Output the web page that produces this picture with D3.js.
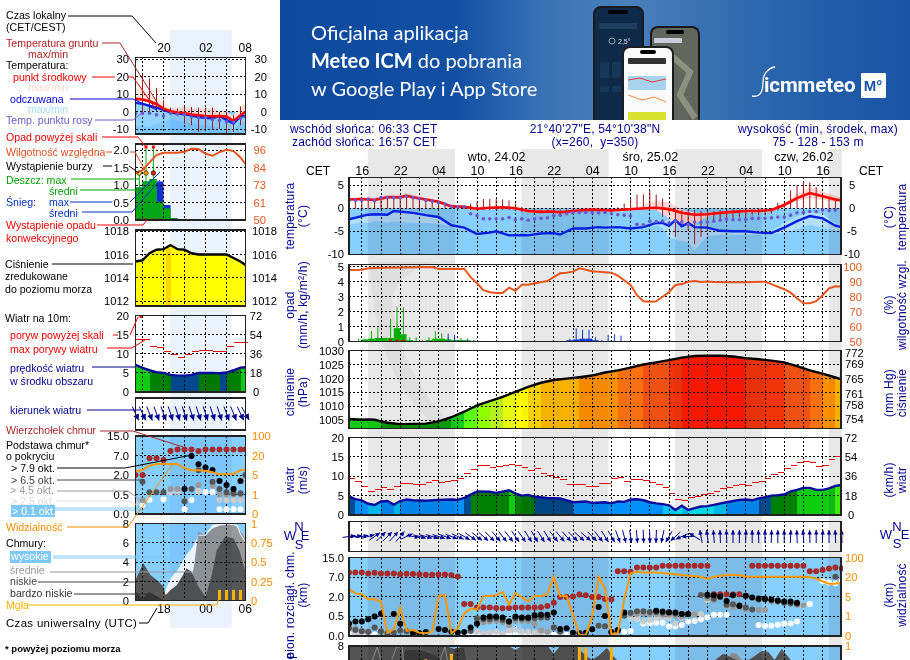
<!DOCTYPE html>
<html><head><meta charset="utf-8">
<script src="https://cdnjs.cloudflare.com/ajax/libs/d3/7.8.5/d3.min.js"></script>
<style>html,body{margin:0;padding:0;background:#fff}svg{display:block}text{font-family:"Liberation Sans",Arial,sans-serif}</style>
</head><body><svg id="c" width="910" height="660"></svg>
<script>
// ---------- main meteogram data (hours since 14:00, 23.02) ----------
const tempHours=[0,2,4,6,8,9,10,12,14,16,18,20,22,24,26,28,30,32,33,35,38,41,45,48,50,52,54,56,58,60,62,64,66,68,70,72,74,76,77];
const tempMid=[1.9,2,1.8,2.4,2.4,2.7,2.4,1.9,1.4,.4,.3,-.1,.1,.2,0,-.6,-.8,-.7,-.9,-.6,-.3,-.5,-.1,.1,-.2,-1,-1.4,-1.3,-1,-.8,-.6,-.6,-.4,.7,2.2,3.3,2.6,1.9,1.7];
const tempHi=[2.2,2.4,2.2,2.9,3,3.2,2.9,2.2,1.7,.7,.5,.2,.4,.5,.3,-.3,-.5,-.4,-.6,-.3,0,-.2,.2,1.6,1.3,-.3,-1,-1,-.7,-.5,-.3,-.3,-.1,1.2,3,4.6,3.7,2.6,2.2];
const tempLo=[1.7,1.7,1.5,2,2,2.3,2,1.6,1.1,.1,0,-.4,-.2,-.1,-.3,-.9,-1.1,-1,-1.2,-.9,-.6,-.8,-.4,-.4,-2.2,-4,-3.4,-1.8,-1.3,-1.1,-.9,-.9,-.7,.3,1.5,2.2,1.8,1.4,1.3];
const feelsHours=[0,2,3,4,6,7,10,12,14,16,18,20,22,23,25,27,28,30,32,33,35,37,39,40,42,44,46,48,49,50,51,52,53,54,56,58,60,62,64,66,68,70,72,74,76,77];
const feelsMid=[-2.4,-1.7,-1.4,-1.3,-1.4,-.6,-1,-1.5,-1.9,-3.7,-4.2,-5.6,-5.3,-5,-5.9,-5.8,-5.9,-5.5,-5.4,-5.7,-4.4,-4.4,-4.1,-4.2,-4.1,-4.4,-4.1,-3.2,-3.2,-3.8,-2.6,-3.9,-3.2,-4.1,-4.2,-4.9,-5,-5,-5.3,-5.4,-4.2,-2.8,-1.7,-2.2,-3.8,-4.1];
const feelsLo=[-3.6,-3.1,-3.2,-2.8,-3.1,-2.9,-3.2,-3.2,-3.3,-4.1,-4.6,-5.9,-5.6,-5.3,-6.2,-6.1,-6.3,-5.9,-5.7,-6,-4.8,-4.8,-4.5,-4.6,-4.4,-4.7,-4.4,-3.7,-4.2,-6.5,-6.8,-7.2,-7.4,-9.2,-6,-5.8,-5.8,-5.8,-5.7,-5.7,-5.4,-4.5,-3.6,-4.2,-4.8,-4.8];
const feelsHi=[-2.2,-1.5,-1.2,-1.1,-1.2,-.4,-.8,-1.3,-1.7,-3.5,-4,-5.3,-5,-4.7,-5.6,-5.5,-5.7,-5.3,-5.2,-5.5,-4.2,-4.2,-3.9,-4,-3.9,-4.2,-3.9,-3,-3,-2.5,-2.2,-3,-2.6,-3.5,-3.8,-4.6,-4.7,-4.7,-5,-5,-3.2,-1.8,-.9,-1.2,-3.2,-3.6];
const dewPoint=[1.7,1.7,1.7,2,1.6,2.3,2.3,2.3,2.3,2.6,2.3,2.1,1.7,1.5,1.2,.9,.4,.3,.3,-1.2,-1.6,-2.3,-2.3,-2.3,-2.3,-2,-2.5,-2.3,-2.6,-2.3,-2.2,-2.1,-1.6,-1.5,-1.2,-1,-.9,-.9,-.9,-1,-.9,-1.2,-1.4,-1.5,-1.7,-3.5,-3.6,-2.8,-2.9,-2.8,-3.2,-2.8,-3,-3.6,-3,-3.1,-3,-2.8,-2.6,-2.4,-2.5,-2.5,-2.4,-2.2,-2.2,-2.2,-2.1,-1.9,-1.9,-1.5,-1,-.9,-.7,-.7,-.4,-.5,-.4,-.6];
const soilMax=[2.1,2,2.2,2,2,2.5,2.6,2.6,2.6,2.9,2.6,2.3,2,1.7,1.5,.9,.6,.5,.5,1,1.4,2,2,2,1.9,1.7,1,.3,-.3,-.3,-.3,-.3,-.3,-.3,-.3,-.3,-.3,-.3,-.3,-.3,-.3,-.3,.2,1,2,3,3,3.9,3,2.1,.1,-.1,-.4,-.4,-.4,-.6,-.6,-.6,-.4,-.4,-.3,-.3,-.3,-.3,-.1,-.1,.1,1.2,1,3.9,5,5.6,5.6,4.6,3.2,2.3,1.9,1.7];
const soilMin=[-.1,-.1,-.1,-.1,-.1,-.1,-.1,-.1,-.1,-.1,-.1,-.1,-.1,-.1,-.1,-.1,-.1,-.1,-.1,-.4,-.4,-.4,-.4,-.4,-.4,-.4,-.4,-.9,-.9,-.9,-.9,-.9,-.9,-.9,-.9,-.9,-.9,-.9,-.9,-.9,-.9,-.9,-.3,-.3,-.3,-.3,-.3,-.3,-.3,-1.9,-1,-6.2,-4,-4.8,-7.8,-6.2,-4,-2.6,-2.6,-2.3,-2.2,-2,-1.9,-1.5,-1.5,-1.5,-1.2,-.5,0,0,0,0,0,0,0,0,0,0];
const rainHours=[0,1,2,3,4,5,6,7,8,9,10,11,12,13,14,15,16,17,18,19];
const rainMean=[.02,.05,.15,.2,.25,.25,.25,.9,.5,.1,.05,.05,.1,.2,.2,.15,.1,.1,.1,.05];
const rainMax=[.05,.2,.2,.7,.95,.25,1.5,2.3,2.3,.3,.3,.1,.3,.7,.55,.3,.3,.25,.2,.1];
const snowHours=[15,16,17,18,19,20,21,26,30,34,35,36,37,38,39,40,41,42,43];
const snowMean=[.05,.05,.05,.05,.05,.03,.02,.01,.01,.1,.15,.2,.2,.1,.03,.03,.02,.02,.02];
const snowMax=[.55,.45,.1,.15,.1,.05,.05,.03,.03,.2,.9,.8,.8,.3,.1,.45,.5,.4,.05];
const convectiveHours=[6,7,8];
const humHours=[0,2,3,6,13,14,18,19,20,21,22,23,24,25,26,27,28,29,31,32,33,34,35,36,37,38,41,42,44,45,46,47,48,49,50,51,52,53,54,55,56,57,60,62,63,65,66,68,69,70,71,72,73,74,75,76,77];
const humidity=[97.8,98,98.9,99.3,99.8,98.4,98.7,93,89,84.4,83,82.4,82.4,86,84,88,88,89,90.4,93,95.6,96,96.7,98.9,98,97,96,94,87.8,81,77,76.7,77,80,83,87.8,88.4,90,90.4,89.8,90.2,89.8,89.6,89.6,89.8,90,88.4,85,82.7,79,75.6,75.6,77,81,85.6,87,86.7];
const pressHours=[0,2,3,4,5,6,8,12,14,16,18,20,22,24,26,28,30,32,34,36,38,40,42,44,46,48,50,52,54,56,58,60,62,64,66,68,70,72,74,76,77];
const pressure=[1005.4,1005.1,1005.2,1005.1,1004.5,1004,1003.5,1003.7,1004.5,1006,1008,1010.3,1011.8,1013.4,1015.2,1017,1018.5,1019.5,1020,1020.5,1021.1,1022.2,1023,1024,1025.1,1025.9,1026.7,1027.6,1028.2,1028.3,1028.3,1028,1027.4,1027,1026.5,1025.9,1024.5,1023,1021.8,1020.4,1019.7];
const windHours=[0,1,2,3,4,5,6,7,8,9,10,12,14,16,17,18,19,20,22,23,25,26,27,28,29,31,33,35,37,38,40,41,42,43,44,45,46,47,48,49,50,51,52,53,54,55,56,57,59,61,62,63,64,65,66,67,68,69,70,71,72,73,74,75,76,77];
const windMean=[4.8,4.1,3.8,2.9,2.6,3.5,3.6,2.7,3.6,4,3.8,3.7,3.9,4,3.9,4.4,5.3,6.1,6,5.7,6.4,5.6,5,5.2,4.7,4.4,4.3,3.3,3.5,3.1,3.3,3,3.5,3.4,4,4.05,3.8,3.3,3,2.8,2.5,1.3,2.4,1.3,1.8,2.2,2.3,2.6,3.3,3.9,4,3.8,4.3,4.6,5,5.1,5.3,6.1,6.5,7,7,6.5,6.5,6.9,7.5,7.8];
const windGust=[9.4,8.6,7.4,6,6.6,7,6.5,7.3,8.1,8.1,7.8,7.8,8.5,8.9,8.4,8.6,8.8,9.4,10.7,11.8,12.7,12.7,12.4,12.6,12.9,13.1,12.9,12.4,11.5,12.1,10.8,10.1,9.8,9.2,7.8,7.8,7.8,7.3,7.4,8.1,8.1,9.5,9.8,8.6,9.2,9.2,8.8,8.3,8,7,5.5,4.1,3.8,4.4,4.9,5.3,5.5,6.2,6.8,7,7.7,7.8,7.6,8.4,8.6,9.4,10.4,10.9,12,12.8,13.6,13.8,13.5,12.6,12.9,14.4,15.2];
const windDir=[262,262,260,255,235,225,225,222,220,245,280,285,285,287,288,290,292,295,300,305,308,312,316,320,322,322,325,325,328,330,328,328,322,320,318,315,312,310,315,322,328,330,340,345,352,355,358,358,2,12,30,48,65,88,122,170,172,176,178,178,180,180,182,180,178,180,182,180,180,182,178,176,178,180,182,180,178,178];
const cloudTop=[9,9,9,8.6,8.9,8.6,8.6,8.6,8.2,8.4,8.3,8.2,8,8,8.1,8.1,7.8,7.3,1.45,1.45,1.19,1.19,1.19,1.15,1.12,1.15,1.19,1.19,1.19,1.19,1.21,1.3,1.55,2,2,2.1,2.6,2.4,2,2,1.83,1.8,9.5,9.5,9.3,11,11,11,11,11.7,11.7,11.7,11.7,11.7,11.7,11.7,11.7,2.7,2.7,2.7,2.6,2.65,2.3,11.7,11.7,11.7,11.7,11.7,11.7,11.7,11.7,11.7,9.5,9.5,10,10.6,11,10.6];
const cloudBlack=[.32,.37,.37,.43,.5,.71,null,.69,.31,null,.08,.07,.1,null,.18,.15,.11,.09,.1,.22,.31,.47,.5,.5,.47,.37,.5,.47,.47,.58,.62,.62,.8,.18,.2,.08,.07,.08,.17,1.22,.53,.1,.15,.8,null,null,null,null,.94,.87,.8,.8,.69,.69,null,null,2.55,2.4,2.1,1.68,2.4,1.3,2.3,1.95,1.88,1.85,1.8,1.73,1.65,1.65,1.55,null,null,null,null,null,null,null];
const cloudDark=[.2,.15,.12,.1,.22,.12,.07,.09,.14,.12,.07,.07,null,null,null,null,null,null,null,.13,.45,.43,.43,.45,.41,.37,.45,.44,.44,.45,.47,.47,.22,.11,null,null,null,null,null,.26,.25,.1,.13,.55,.78,.89,.89,.83,.83,.78,.83,.72,.69,.66,null,2.5,2.2,1.85,2,1.4,1.43,1.35,1.19,1.04,1.8,1.8,1.75,1.65,1.55,1.5,1.45,null,null,null,null,null,7.2,null];
const cloudGray=[.22,.2,.14,.12,null,null,null,null,null,null,null,null,null,null,null,null,null,null,null,null,.37,.35,.37,.39,.35,.28,.39,.39,.38,.31,.14,.11,.21,null,null,null,null,null,null,null,null,null,null,null,.68,.68,.68,.68,.68,.63,.63,.55,.5,.66,.66,null,1.9,1.75,null,1.35,1.2,1.25,1.04,null,1,1,1.65,null,null,null,1.4,1.35,null,null,null,null,null,null];
const cloudLight=[.16,.07,.05,null,null,null,null,null,null,null,null,null,null,null,null,null,null,null,null,null,.11,.07,.09,.11,.07,.14,.16,.11,.11,.09,.07,.11,null,null,null,null,null,null,null,null,null,null,null,null,.46,.44,.37,.4,.46,.48,.46,.32,.46,.65,.67,.66,1.75,null,null,null,null,null,null,null,null,null,null,null,null,null,null,null,null,null,null,null,null,null];
const cloudWhite=[.04,.04,.04,.04,.04,null,null,null,null,null,null,null,null,null,null,null,null,null,.04,.04,.04,.04,.04,.04,.04,.04,.04,.04,.04,.04,.04,.03,.03,.03,.03,.03,.03,.03,null,null,null,null,null,.11,.13,.44,.32,.32,.34,.34,.25,.24,.28,.37,.38,.43,.48,.63,.63,.63,null,null,null,null,.28,.26,.26,.29,.31,.32,.37,1.35,1.45,null,6,5.7,5.5,6];
const visHours=[0,1,2,3,4,5,6,7,8,9,10,11,12,13,14,15,16,17,18,19,20,21,22,23,24,25,26,27,28,29,30,31,32,33,34,35,36,37,38,39,40,41,42,43,44,45,46,48,49,52,55,56,57,59,61,62,65,71,72,73,74,75,76,77];
const visibility=[11,7.7,7.1,4.5,4.5,4,.17,.34,2.8,.27,.3,.17,.14,.22,5.6,6.5,.14,.39,1.6,2.6,2.4,5.6,5.6,6.2,8.9,3.4,8,4.9,4.1,5.6,5.6,7.1,22,5.6,5.6,1.3,.05,.05,1,22,11.5,.1,.14,4.4,36,43,40,40,38,29,22,18.7,22,29,29,22,22,22,21,19,17,15,15,16];
const lowHours=[0,15,16.5,18,25,26,27,31,32,33,35.5,37,38,39,40.3,41.5,43,56,58.5,60.5,62,63,64.5,65.5,66.5,67.6,69,71,77];
const cloudLow=[8,8,7.7,8,8,7.6,8,8,7.2,8,8,7,6.6,7,7.8,6.8,6,6,7.2,6.6,6.4,6.8,7.5,7.4,6.6,7.7,6.6,6,5];
const veryLowHours=[8.3,8.8,11,13.7,14,16.1,16.6,18,18.4];
const veryLow=[6,7.6,7.6,7,6,6,7.8,7.8,6];
const midHours=[58.8,59.8,60.6,61.6];
const cloudMid=[6.4,7.3,7.2,6.4];
const highLineA=[[3.6,6.5],[4.4,7.9],[5,6.5]];
const highLineB=[[6.7,6.6],[7.4,7.9],[8.3,7.9],[8.5,6.5]];
const highLineC=[[14.2,6.5],[15,7.9],[15.4,6.5]];
const fogHours=[12,16,36,37,41];
const fog=[.83,.9,1,.98,1];
const nights=[[2.95,16.55],[26.95,40.55],[50.95,64.55],[74.95,77]];
const hourTicks=[2,8,14,20,26,32,38,44,50,56,62,68,74];
const hourLabels=["16","22","04","10","16","22","04","10","16","22","04","10","16"];
const dayHours=[23,47,71];
const dayLabels=["wto, 24.02","śro, 25.02","czw, 26.02"];

// ---------- small past panel data (hours since 16:00) ----------
const miniHours=[0,1,2,3,4,5,6,7,8,9,10,11,12,13,14,15,15.7];
const miniTemp=[7.3,6.9,5.9,4.2,1.7,.2,-.6,-.8,-1.7,-2.1,-2.5,-2.7,-2.5,-2.9,-5.4,-2.1,-.2];
const miniTempHi=[13.6,12.3,10,7.5,4.6,2.1,2.3,2.3,2.1,1.7,1.7,1.7,.2,-.2,-2,2.3,4.6];
const miniTempLo=[6.3,5.9,4.9,3.2,.7,-.8,-1.6,-1.8,-2.7,-3.1,-3.5,-3.7,-3.5,-3.9,-6.4,-3.1,-1.2];
const miniFeels=[5,4.4,3.4,2.3,1,-.4,-1.1,-1.5,-2.1,-3.1,-3.6,-3.8,-2.5,-4.8,-6.9,-2.7,-2.5];
const miniFeelsLo=[-8,-8.4,-8.5,-7,-6,-4.2,-5,-6,-6.8,-7.5,-8,-8.6,-9.3,-10,-10,-6,-6];
const miniDew=[-1.1,-1.1,-1,-1.9,-2.5,-1,-1.5,-1.7,-3.1,-3.6,-3.4,-4.6,-5,-5.9,-6.1,-4,-3];
const miniSoilMax=[null,21.5,19,13.6,6.5,2.3,1.7,2.7,2.7,2.3,2.3,2.3,-.2,-.2,-2,3,null];
const miniSoilMin=[null,-1,-.2,0,0,0,-.2,-6.9,-7.9,-11.7,-9.8,-10.3,-9.8,-12.6,-11.7,-7.9,null];
const miniRainHours=[0,1,2,3,4,5];
const miniRainMean=[.93,1.1,1.17,.52,.33,.05];
const miniSnowTotal=[.93,1.1,1.17,1.1,.43,.05];
const miniRainMaxHours=[.55,1.5,2.55];
const miniRainMax=[1.33,2.1,2.1];
const miniOverHours=[1.5,2.55];
const miniStormHours=[.55,1.5,2.55];
const miniStormColors=["#ffe000","#f0a000","#e02000"];
const miniConvective=[.5,1.5,2.5,3.5];
const miniHumidity=[80.6,82.8,87.9,92.7,94.2,94.2,94.2,94.9,96.8,96.6,93.5,92.2,94.6,96.2,95.3,91.1,86.8];
const miniPressHours=[0,1,2,3,4,4.3,5,6,7,8,9,10,11,12,13,14,15,15.7];
const miniPressure=[1015.4,1015.5,1016.1,1016.4,1016.45,1016.55,1016.8,1016.45,1016.4,1016.1,1016,1016,1016,1016,1016,1015.7,1015.4,1015.1];
const miniWind=[7.1,6.3,5.7,5.2,5,4.5,4.3,4.3,4.5,5,5,5,4.9,5.1,5.7,6.4,6.5];
const miniGust=[13.7,13.7,11.9,11.7,10.7,9.7,9,9.9,10.7,11,11,10.7,10.7,11.8,13,13.1];
const miniDir=[335,335,338,340,340,342,342,342,342,342,342,342,342,340,338,335,330];
const miniTop=[2,2,6.3,6.3,5.85,8.8,9.5,9.5,9.5,8.8,9.5,9.5,9.5,9.5,9.5,9.5,9.5];
const miniBlack=[null,null,null,null,null,null,null,.92,6.9,4.75,3.9,3.3,1.54,1.23,.92,1.54,null];
const miniDark=[null,1.49,.67,.67,.67,null,null,.33,.92,3.2,null,1.49,.92,.67,.6,.6,2];
const miniGray=[null,.35,null,null,null,.92,.92,null,null,1.23,null,1.18,.5,.5,.5,.5,null];
const miniLight=[.27,null,null,null,null,.72,.72,null,null,.77,null,null,.36,.36,.36,.36,null];
const miniWhite=[null,.23,.36,null,.38,.67,null,.12,.36,.75,.7,.7,.12,.12,.12,.12,null];
const miniVis=[8,8.75,12.2,13.4,13.4,13.4,13.4,10.1,8.75,8.75,8,7.1,5.5,5.5,5.8,8.75,9];
const miniLowHours=[0,1.1,2.1,3.3,4,4.3,5,5.9,6.8,7.3,8,9,10,10.9,11.6,12.8,14,14.9,15.7];
const miniLow=[2.15,3.9,2.7,2,1.45,.6,1.1,1.6,2.7,3.35,3,1.45,.4,2.7,5.25,6.65,6.5,5.1,3];
const miniVeryLowHours=[0,1,2,3.5,4.2];
const miniVeryLow=[.9,.25,.9,.25,0];
const miniMidHours=[7,8,8.3,9,10,11,12,14,14.7,15.7];
const miniMid=[0,2.3,3.35,7.15,6.8,7.5,7.8,8,7.5,6.5];
const miniHighHours=[4,4.2,5,6,7.1,8.2,9,10,11,13,14.5,15,15.7];
const miniHigh=[0,.9,2.3,3.2,4.6,5.6,6.8,6.8,7.85,8,7.85,6.9,6.1];
const miniFogHours=[12,13,14,15];
const miniFog=[.14,.14,.14,.14];

// ---------- legend text: label,x,y,colour ----------
const legendLabels=[
["Czas lokalny",6,19,"#000"],["(CET/CEST)",6,31,"#000"],["Temperatura gruntu",6,47,"#b22222"],["max/min",28,57.5,"#b22222"],
["Temperatura:",6,69,"#000"],["punkt środkowy",13,81,"#ff0000"],["max/min",28,91,"#ffdccc"],["odczuwana",10,103,"#0000e0"],["max/min",28,113,"#a8dcff"],
["Temp. punktu rosy",6,124,"#6a5acd"],["Opad powyżej skali",6,141,"#ff0000"],["Wilgotność względna",6,156,"#e05020"],["Wystąpienie burzy",6,170,"#000"],
["Deszcz: max",6,184,"#00a000"],["średni",49,195,"#00a000"],["Śnieg:",6,206,"#0030c0"],["max",49,206,"#0030c0"],["średni",49,217,"#0030c0"],
["Wystąpienie opadu",6,229,"#ff0000"],["konwekcyjnego",6,242,"#ff0000"],["Ciśnienie",5,268,"#000"],["zredukowane",5,280,"#000"],["do poziomu morza",5,293,"#000"],
["Wiatr na 10m:",5,322,"#000"],["poryw powyżej skali",10,339,"#ff0000"],["max porywy wiatru",10,353,"#ff0000"],["prędkość wiatru",10,372,"#000090"],["w środku obszaru",10,385,"#000090"],
["kierunek wiatru",10,414,"#000090"],["Wierzchołek chmur",6,434,"#a52a2a"],["Podstawa chmur*",6,449,"#000"],["o pokryciu",6,460,"#000"],
["> 7.9 okt.",11,472,"#000"],["> 6.5 okt.",11,484,"#444"],["> 4.5 okt.",10,494,"#999"],["> 2.5 okt.",11,505,"#ddd"],["Widzialność",6,531,"#ff8c00"],
["Chmury:",6,547,"#000"],["średnie",10,574,"#999"],["niskie",10,585,"#444"],["bardzo niskie",10,597,"#333"],["Mgła",6,609,"#ffb000"]];
const legendBoxes=[["> 0.1 okt.",11,505,44,12,515],["wysokie",10,551,41,12,560]];
const leaders=[
[[68,16],[132,16],[156,43],"#000"],[[102,43],[120,43],[160,107],"#a52a2a"],[[92,77],[115,77],"#f00"],[[128,77],[133,77],[155,108],"#f00"],
[[70,99],[133,99],[157,110],"#0000e0"],[[95,120],[133,120],[142,113],"#6a5acd"],[[102,137],[138,137],[146,147],"#f00"],
[[106,152],[112,152],"#e05020"],[[130,152],[135,152],[146,172],"#e05020"],[[103,166],[112,166],"#000"],[[129,166],[139,173],"#000"],
[[71,179],[139,179],"#00a000"],[[80,190],[144,190],"#00a000"],[[70,202],[112,202],"#0030c0"],[[130,202],[160,172],"#0030c0"],[[82,212],[132,212],[160,180],"#0030c0"],
[[97,225],[143,225],[147,220],"#f00"],[[52,264],[133,264],"#000"],[[113,335],[118,335],"#f00"],[[130,335],[138,317],"#f00"],[[107,348],[132,348],[145,340],"#f00"],
[[92,367],[135,367],"#000090"],[[87,410],[140,410],"#000090"],[[100,431],[133,431],[183,447],"#a52a2a"],[[57,468],[125,468],[192,455],"#000"],
[[57,480],[143,480],"#444"],[[57,491],[128,491],[143,502],"#999"],[[57,501],[130,501],[137,505],"#ddd"],[[55,508],[135,508],"#7ec8f8"],[[55,510],[135,510],"#7ec8f8"],
[[67,527],[128,527],[172,465],"#ff8c00"],[[53,556],[185,556],"#7ec8f8"],[[53,558],[185,558],"#7ec8f8"],[[50,572],[193,572],"#999"],[[38,582],[135,582],"#444"],[[74,594],[147,594],"#333"],
[[27,605],[217,605],[218,600],"#ffb000"],[[139,623],[148,623],[157,608],"#000"]];

// ---------- colour steps ----------
const pressSteps=[1004.3,1005,1006.5,1008,1009.5,1011,1012.5,1014,1016.5,1018.2,1020.5,1022.5,1024.5,1026,1027.5];
const pressColors=["#0a8f0a","#0c9f0c","#14cc14","#2ee81a","#5cff10","#8fff00","#b6ee20","#e6f710","#ffff00","#ffd800","#ffb800","#ff9000","#f87010","#f05010","#f03408","#ff1a00"];
const windSteps=[2.4,3,4.2,5,6.2,7.3];
const windColors=["#00f0ff","#00c8ff","#0090ff","#004c90","#008000","#10cc10","#44ff11"];

// ---------- setup ----------
const svg=d3.select("#c");
const NAVY="#000090",FONT=10.6;
function txt(g,s,x,y,o={}){const t=g.append("text").attr("x",x).attr("y",y).text(s)
 .attr("fill",o.fill||"#000").attr("font-size",o.size||FONT).attr("text-anchor",o.anchor||"start")
 .style("letter-spacing",(o.ls==null?0:o.ls)+"px");
 if(o.weight)t.attr("font-weight",o.weight);if(o.family)t.style("font-family",o.family);
 if(o.rot!=null)t.attr("transform",`rotate(${o.rot} ${x} ${y})`);return t;}
const pts=(hs,vs)=>hs.map((h,i)=>[h,vs[i]]);
const pairs=(hs,a,b)=>hs.map((h,i)=>[h,a[i],b[i]]);

function makeAxis(g,side,scale,vals,x,o={}){
 const ax=(side==="left"?d3.axisLeft(scale):d3.axisRight(scale)).tickValues(vals).tickSize(0).tickPadding(0).tickFormat(o.format||(d=>d));
 const a=g.append("g").attr("transform",`translate(${x},0)`).call(ax);
 a.select(".domain").remove();
 a.selectAll("text").attr("fill",o.fill||"#000").attr("font-size",o.size||11.2).style("font-family",'"Liberation Sans"')
  .attr("text-anchor",o.anchor||(side==="left"?"end":"start")).attr("x",0);
}
function timeAxis(g,scale,vals,labels,y,size){
 const a=g.append("g").attr("transform",`translate(0,${y})`).call(d3.axisTop(scale).tickValues(vals).tickSize(0).tickPadding(0).tickFormat((d,i)=>labels[i]));
 a.select(".domain").remove();
 a.selectAll("text").attr("fill","#000").attr("font-size",size).style("font-family",'"Liberation Sans"').attr("text-anchor","middle").attr("dy",0);
}
function grid(g,xS,yS,x0,x1,y0,y1,hs,ys){
 const gg=g.append("g").attr("stroke","#000").attr("stroke-width",1).attr("stroke-dasharray","2,2").attr("shape-rendering","crispEdges");
 gg.selectAll(".v").data(hs).join("line").attr("x1",d=>xS(d)).attr("x2",d=>xS(d)).attr("y1",y0).attr("y2",y1);
 gg.selectAll(".h").data(ys).join("line").attr("x1",x0).attr("x2",x1).attr("y1",d=>yS(d)).attr("y2",d=>yS(d));
}
function border(g,x0,x1,y0,y1,w){g.append("rect").attr("x",x0).attr("y",y0).attr("width",x1-x0).attr("height",y1-y0)
 .attr("fill","none").attr("stroke","#222").attr("stroke-width",w||1.5).attr("shape-rendering","crispEdges");}
let clipN=0;
function clipRect(x0,x1,y0,y1){const id="cp"+(clipN++);svg.append("clipPath").attr("id",id).append("rect").attr("x",x0).attr("y",y0).attr("width",x1-x0).attr("height",y1-y0);return `url(#${id})`;}
function areaClip(path){const id="cp"+(clipN++);svg.append("clipPath").attr("id",id).append("path").attr("d",path);return `url(#${id})`;}
function lineOf(xS,yS){return d3.line().defined(d=>d[1]!=null).x(d=>xS(d[0])).y(d=>yS(d[1]));}
function areaOf(xS,yS,base){return d3.area().x(d=>xS(d[0])).y0(yS(base)).y1(d=>yS(d[1]));}
function bandOf(xS,yS){return d3.area().x(d=>xS(d[0])).y0(d=>yS(d[2])).y1(d=>yS(d[1]));}
function steps(g,xS,yS,hs,vs,base,colorFn){
 const clip=areaClip(areaOf(xS,yS,base)(pts(hs,vs)));
 const gg=g.append("g").attr("clip-path",clip);
 gg.selectAll("rect").data(hs.slice(0,-1)).join("rect").attr("x",d=>xS(d)).attr("width",(d,i)=>xS(hs[i+1])-xS(d)+.5)
  .attr("y",yS.range()[1]-20).attr("height",yS(base)-yS.range()[1]+20).attr("fill",(d,i)=>colorFn(vs[i],vs[i+1])).attr("shape-rendering","crispEdges");
}
function dots(g,xS,yS,hs,vs,r,c){
 g.append("g").selectAll("circle").data(pts(hs,vs).filter(d=>d[1]!=null)).join("circle")
  .attr("cx",d=>xS(d[0])).attr("cy",d=>yS(d[1])).attr("r",r).attr("fill",c);
}
function arrows(g,xS,cy,hs,dirs,len,hl,hw){
 const gg=g.append("g");
 hs.forEach((h,i)=>{const a=(dirs[i]+180)*Math.PI/180,dx=Math.sin(a),dy=-Math.cos(a),cx=xS(h);
  const tx=cx+dx*len/2,ty=cy+dy*len/2,sx=cx-dx*len/2,sy=cy-dy*len/2,bx=tx-dx*hl,by=ty-dy*hl;
  gg.append("path").attr("d",d3.line()([[sx,sy],[tx,ty]])).attr("stroke",NAVY).attr("stroke-width",1).attr("fill","none");
  gg.append("path").attr("d",d3.line()([[tx,ty],[bx-dy*hw,by+dx*hw],[bx+dy*hw,by-dx*hw]])+"Z").attr("fill",NAVY);
 });
}

// ---------- banner ----------
(function(){
 const defs=svg.append("defs");
 const lg=defs.append("linearGradient").attr("id","bn");
 [[0,"#0d4a9e"],[.28,"#114fa2"],[.42,"#3a72b6"],[.55,"#4a80bb"],[.75,"#2e68ae"],[.9,"#1f5aa8"],[1,"#1a55a5"]].forEach(s=>lg.append("stop").attr("offset",s[0]).attr("stop-color",s[1]));
 const b=svg.append("g");
 b.append("rect").attr("x",280).attr("y",0).attr("width",630).attr("height",120).attr("fill","url(#bn)");
 const F='Lato,"Open Sans",sans-serif';
 txt(b,"Oficjalna aplikacja",311,40,{fill:"#fff",size:20,family:F});
 const t2=b.append("text").attr("x",311).attr("y",68).attr("fill","#fff").attr("font-size",20).style("font-family",F);
 t2.append("tspan").attr("font-weight",700).text("Meteo ICM");t2.append("tspan").text(" do pobrania");
 txt(b,"w Google Play i App Store",311,96,{fill:"#fff",size:20,family:F});
 const pc=b.append("g").attr("clip-path",clipRect(280,910,0,120));
 const rr=(x,y,w,h,r,f)=>pc.append("rect").attr("x",x).attr("y",y).attr("width",w).attr("height",h).attr("rx",r).attr("fill",f);
 rr(593,6,51,125,8,"#1a1a1e");rr(595,8,47,125,6,"#0e2a48");rr(608,10,20,4,2,"#000");
 rr(599,23,38,6,1,"#1e3c5e");txt(pc,"2,5°",618,44,{fill:"#dde",size:7});pc.append("circle").attr("cx",612).attr("cy",41).attr("r",3).attr("fill","none").attr("stroke","#8aa");
 for(let k=0;k<3;k++){rr(600+k*12,62,9,16,1,"#16365a");rr(600+k*12,86,9,6,1,"#16365a");}
 rr(650,26,50,100,8,"#18181c");rr(652,28,46,98,6,"#62665c");rr(666,30,18,4,2,"#000");rr(654,38,28,5,1,"#ccd");
 pc.append("path").attr("d","M665,50 L690,72 L680,95 L695,118").attr("stroke","#8d8f80").attr("stroke-width",6).attr("fill","none");
 rr(622,46,52,85,8,"#1e1e22");rr(624,48,48,80,6,"#fafafa");rr(640,50,16,4,2,"#000");rr(628,58,38,6,1,"#333");
 rr(628,76,38,14,0,"#a6d4ef");pc.append("path").attr("d","M628,80 L640,78 L652,82 L666,79").attr("stroke","#e33").attr("fill","none");
 pc.append("path").attr("d","M628,95 L642,100 L654,97 L666,102").attr("stroke","#e84").attr("fill","none");
 rr(628,112,38,8,0,"#d8e030");
 txt(b,"icmmeteo",764,92,{fill:"#fff",size:20.5,weight:700,family:'Roboto,sans-serif',ls:-.1});
 b.append("path").attr("d","M752,96 C762,98 763,88 763,82 C763,74 768,68 775,67").attr("stroke","#fff").attr("stroke-width",1.3).attr("fill","none");
 b.append("rect").attr("x",861).attr("y",73).attr("width",25).attr("height",25).attr("rx",1).attr("fill","#fff");
 txt(b,"M°",873,91,{fill:"#1a56a6",size:15,weight:700,anchor:"middle"});
})();

// ---------- header ----------
const H={fill:NAVY,size:12,ls:.2};
txt(svg,"wschód słońca: 06:33 CET",290,133,H);
txt(svg,"zachód słońca: 16:57 CET",292,146,H);
txt(svg,"21°40'27\"E, 54°10'38\"N",595,133,{...H,anchor:"middle"});
txt(svg,"(x=260,\u00a0 y=350)",595,146,{...H,anchor:"middle"});
txt(svg,"wysokość (min, środek, max)",898,133,{...H,anchor:"end"});
txt(svg,"75 - 128 - 153 m",818,146,{...H,anchor:"middle"});

// ---------- main panels ----------
const X0=349,X1=841;
const x=d3.scaleLinear().domain([0,77]).range([X0,X0+77*6.4]);
const yT=d3.scaleLinear().domain([-10,5]).range([254.3,185.2]);
const yR=d3.scaleLinear().domain([0,5]).range([341.7,266.7]);
const yH=d3.scaleLinear().domain([50,100]).range([341.7,266.7]);
const yP=d3.scaleLinear().domain([1005,1030]).range([420,351]);
const yPmm=d3.scaleLinear().domain([1005*.750062,1030*.750062]).range([420,351]);
const yW=d3.scaleLinear().domain([0,20]).range([515,437.6]);
const yWk=d3.scaleLinear().domain([0,72]).range([515,437.6]);
const yB=d3.scaleLinear().domain([0,.5,2,7,15]).range([636,616.4,596.9,577.3,557.7]);
const yV=d3.scaleLinear().domain([0,1,5,20,100]).range([636,616.4,596.9,577.3,557.7]);
const yC=d3.scaleLinear().domain([0,8]).range([724,646]);
const yF=d3.scaleLinear().domain([0,1]).range([724,646]);
const pressColor=d3.scaleThreshold().domain(pressSteps).range(pressColors);
const windColor=d3.scaleThreshold().domain(windSteps).range(windColors);
const pT=[177.3,254.7],pR=[264.3,341.7],pP=[350.3,428.3],pW=[437.3,515],pD=[521.3,551.7],pB=[557.7,636],pC=[646,730];

const fills=svg.append("g");
fills.append("rect").attr("x",X0).attr("width",X1-X0).attr("y",yT(0)).attr("height",pT[1]-yT(0)).attr("fill","#87cfff");
fills.append("path").attr("d",bandOf(x,yT)(pairs(feelsHours,feelsHi,feelsLo))).attr("fill","#b4deff").attr("clip-path",clipRect(X0,X1,pT[0],pT[1]));
fills.append("path").attr("d",bandOf(x,yT)(pairs(tempHours,tempHi,tempLo))).attr("fill","#ffd6d6").attr("clip-path",clipRect(X0,X1,pT[0],pT[1]));
steps(fills,x,yW,windHours,windMean,0,d=>windColor(d));
fills.append("rect").attr("x",X0).attr("width",X1-X0).attr("y",pB[0]).attr("height",pB[1]-pB[0]).attr("fill","#87cfff");
fills.append("rect").attr("x",X0).attr("width",X1-X0).attr("y",pC[0]).attr("height",pC[1]-pC[0]).attr("fill","#87cfff");
fills.append("path").attr("d",areaOf(x,yC,0)(pts(midHours,cloudMid))).attr("fill","#999");
fills.append("path").attr("d",areaOf(x,yC,0)(pts(lowHours,cloudLow))).attr("fill","#555");
fills.append("path").attr("d",areaOf(x,yC,0)(pts(veryLowHours,veryLow))).attr("fill","#3c3c3c");

// night shading (multiply) and its watermark
const shade=svg.append("g").style("mix-blend-mode","multiply");
shade.selectAll("rect").data(nights).join("rect").attr("x",d=>x(d[0])).attr("width",d=>x(d[1])-x(d[0])).attr("y",149).attr("height",511).attr("fill","#e8e8e8");
const wm=svg.append("g").style("mix-blend-mode","multiply").attr("clip-path",clipRect(x(nights[0][0]),x(nights[0][1]),260,428));
wm.append("path").attr("d","M370,262 C372,330 392,395 440,428 L455,428 C425,398 398,360 392,300 C395,280 420,258 455,262 Z").attr("fill","#f4f4f4");

// pressure fill sits above the full night shading, with only a slight translucent shade of its own
const pf=svg.append("g");
steps(pf,x,yP,pressHours,pressure,1002,d=>pressColor(d));
const pShade=pf.append("g").attr("clip-path",areaClip(areaOf(x,yP,1002)(pts(pressHours,pressure))));
pShade.selectAll("rect").data(nights).join("rect").attr("x",d=>x(d[0])).attr("width",d=>x(d[1])-x(d[0])).attr("y",pP[0]).attr("height",pP[1]-pP[0]).attr("fill","#000").attr("fill-opacity",.035);

const over=svg.append("g");
const vGrid=d3.range(2,75,3);
grid(over,x,yT,X0,X1,pT[0],pT[1],vGrid,[5,0,-5]);
grid(over,x,yR,X0,X1,pR[0],pR[1],vGrid,[1,2,3,4,5]);
grid(over,x,yP,X0,X1,pP[0],pP[1],vGrid,[1005,1010,1015,1020,1025]);
grid(over,x,yW,X0,X1,pW[0],pW[1],vGrid,[5,10,15]);
grid(over,x,yW,X0,X1,pD[0],pD[1],vGrid,[]);
grid(over,x,yB,X0,X1,pB[0],pB[1],vGrid,[.5,2,7]);
grid(over,x,yC,X0,X1,646,660,vGrid,[]);

const tClip=clipRect(X0,X1,pT[0],pT[1]);
const tg=over.append("g").attr("clip-path",tClip);
tg.append("g").selectAll("line").data(d3.range(soilMax.length)).join("line").attr("x1",i=>x(i)).attr("x2",i=>x(i)).attr("y1",i=>yT(soilMax[i])).attr("y2",i=>yT(soilMin[i])).attr("stroke","#a01818").attr("stroke-width",1);
tg.append("path").attr("d",lineOf(x,yT)(pts(feelsHours,feelsMid))).attr("fill","none").attr("stroke","#0020e0").attr("stroke-width",2.4);
tg.append("path").attr("d",lineOf(x,yT)(pts(tempHours,tempMid))).attr("fill","none").attr("stroke","#ff0000").attr("stroke-width",2.6);
dots(tg,x,yT,d3.range(dewPoint.length),dewPoint,1.8,"#6a5acd");
const rClip=clipRect(X0,X1,pR[0],pR[1]);
const rg=over.append("g").attr("clip-path",rClip);
rg.append("g").selectAll("rect").data(rainHours).join("rect").attr("x",d=>x(d)).attr("width",6.4).attr("y",(d,i)=>yR(rainMean[i])).attr("height",(d,i)=>yR(0)-yR(rainMean[i])).attr("fill","#00b000");
rg.append("g").selectAll("line").data(rainHours).join("line").attr("x1",d=>x(d+.5)).attr("x2",d=>x(d+.5)).attr("y1",(d,i)=>yR(rainMax[i])).attr("y2",yR(0)).attr("stroke","#00b000");
rg.append("g").selectAll("rect").data(snowHours).join("rect").attr("x",d=>x(d)).attr("width",6.4).attr("y",(d,i)=>yR(snowMean[i])).attr("height",(d,i)=>yR(0)-yR(snowMean[i])).attr("fill","#1038d0");
rg.append("g").selectAll("line").data(snowHours).join("line").attr("x1",d=>x(d+.5)).attr("x2",d=>x(d+.5)).attr("y1",(d,i)=>yR(snowMax[i])).attr("y2",yR(0)).attr("stroke","#1038d0");
rg.append("g").selectAll("rect").data(convectiveHours).join("rect").attr("x",d=>x(d+.5)-1.5).attr("width",3).attr("y",yR(0)-2).attr("height",2).attr("fill","#f00000");
rg.append("path").attr("d",lineOf(x,yH)(pts(humHours,humidity))).attr("fill","none").attr("stroke","#e8551c").attr("stroke-width",2);
over.append("path").attr("d",lineOf(x,yP)(pts(pressHours,pressure))).attr("fill","none").attr("stroke","#000").attr("stroke-width",2.4);
over.append("path").attr("d",lineOf(x,yW)(pts(windHours,windMean))).attr("fill","none").attr("stroke","#0a0a9a").attr("stroke-width",2.4);
over.append("g").selectAll("line").data(windGust).join("line").attr("x1",(d,i)=>x(i)).attr("x2",(d,i)=>x(i+1)).attr("y1",d=>yW(d)).attr("y2",d=>yW(d)).attr("stroke","#f00000").attr("stroke-width",1).attr("shape-rendering","crispEdges");
arrows(over,x,536.5,d3.range(windDir.length),windDir,13,4.5,2.2);
const bg=over.append("g").attr("clip-path",clipRect(X0,X1+2,pB[0],pB[1]));
const hoursAll=d3.range(78);
dots(bg,x,yB,hoursAll,cloudTop,3,"#a52a2a");
dots(bg,x,yB,hoursAll,cloudWhite,3,"#fff");
dots(bg,x,yB,hoursAll,cloudLight,3,"#ccc");
dots(bg,x,yB,hoursAll,cloudGray,3,"#999");
dots(bg,x,yB,hoursAll,cloudDark,3,"#555");
dots(bg,x,yB,hoursAll,cloudBlack,3,"#000");
bg.append("path").attr("d",lineOf(x,yV)(pts(visHours,visibility))).attr("fill","none").attr("stroke","#ff9800").attr("stroke-width",2);
[highLineA,highLineB,highLineC].forEach(l=>over.append("path").attr("d",lineOf(x,yC)(l)).attr("fill","none").attr("stroke","#999").attr("stroke-width",.8));
over.append("g").selectAll("rect").data(fogHours).join("rect").attr("x",d=>x(d)-1.5).attr("width",3).attr("y",(d,i)=>yF(fog[i])).attr("height",(d,i)=>yF(0)-yF(fog[i])).attr("fill","#ffb000");

[pT,pR,pP,pW,pD,pB].forEach(p=>border(over,X0,X1,p[0],p[1]));
border(over,X0,X1,pC[0],pC[1]);

const ax=svg.append("g");
makeAxis(ax,"left",yT,[5,0,-5,-10],344);
makeAxis(ax,"left",yR,[0,1,2,3,4,5],344);
makeAxis(ax,"left",yP,[1005,1010,1015,1020,1025,1030],344);
makeAxis(ax,"left",yW,[0,5,10,15,20],344);
makeAxis(ax,"left",yB,[0,.5,2,7,15],344,{format:d3.format(".1f")});
makeAxis(ax,"left",yC,[8],344);
makeAxis(ax,"right",yT,[5,0,-5,-10],852,{anchor:"middle"});
makeAxis(ax,"right",yH,[50,60,70,80,90,100],862,{anchor:"end",fill:"#e8551c"});
makeAxis(ax,"right",yPmm,[754,758,761,765,769,772],845);
makeAxis(ax,"right",yWk,[0,18,36,54,72],851,{anchor:"middle"});
makeAxis(ax,"right",yV,[0,1,5,20,100],845,{fill:"#ff8c00"});
makeAxis(ax,"right",yF,[1],845,{fill:"#ff8c00"});
timeAxis(ax,x,hourTicks,hourLabels,175,12.5);
timeAxis(ax,x,dayHours,dayLabels,161,12.5);
txt(ax,"CET",306,175,{size:12});txt(ax,"CET",859,175,{size:12});

const R={fill:NAVY,size:12,anchor:"middle",rot:-90,ls:.2};
[["temperatura",294,216],["(°C)",307,216],["opad",294,305],["(mm/h, kg/m²/h)",307,305],["ciśnienie",294,392],["(hPa)",307,392],["wiatr",294,480],["(m/s)",307,480],["pion. rozciągł. chm.",294,605],["(km)",307,595],
 ["e",294,656],["(°C)",893,217],["temperatura",906,217],["(%)",893,305],["wilgotność wzgl.",906,305],["(mm Hg)",893,393],["ciśnienie",906,393],["(km/h)",893,480],["wiatr",906,480],["(km)",893,595],["widzialność",906,595]
].forEach(d=>txt(ax,d[0],d[1],d[2],R));
[["W",290,540],["N",299,531],["E",305,540],["S",299,549],["W",886,539],["N",897,531],["E",905,539],["S",897,548]].forEach(d=>txt(ax,d[0],d[1],d[2],{fill:NAVY,size:13,anchor:"middle"}));

// ---------- small panels ----------
const MX0=135.5,MX1=245.5;
const m=d3.scaleLinear().domain([0,16]).range([MX0,MX0+16*7]);
const myT=d3.scaleLinear().domain([-10,30]).range([129,59.3]);
const myR=d3.scaleLinear().domain([0,2]).range([220,150]);
const myH=d3.scaleLinear().domain([50,96]).range([220,150]);
const myP=d3.scaleLinear().domain([1012,1018]).range([301.3,231]);
const myW=d3.scaleLinear().domain([0,20]).range([392,315.7]);
const myWk=d3.scaleLinear().domain([0,72]).range([392,315.7]);
const myB=d3.scaleLinear().domain([0,.5,2,7,15]).range([514,494.5,475,455.5,436]);
const myV=d3.scaleLinear().domain([0,1,5,20,100]).range([514,494.5,475,455.5,436]);
const myC=d3.scaleLinear().domain([0,8]).range([600.7,523.7]);
const myF=d3.scaleLinear().domain([0,1]).range([600.7,523.7]);
const qT=[57.3,134],qR=[144,220],qP=[230,306],qW=[315.7,392],qD=[398,430],qB=[436,514],qC=[523.7,600.7];

const mf=svg.append("g");
mf.append("rect").attr("x",MX0).attr("width",MX1-MX0).attr("y",myT(0)).attr("height",qT[1]-myT(0)).attr("fill","#7fc8ff");
const mtClip=clipRect(MX0,MX1,qT[0],qT[1]);
mf.append("path").attr("d",bandOf(m,myT)(pairs(miniHours,miniFeels,miniFeelsLo))).attr("fill","#92d4ff").attr("clip-path",mtClip);
mf.append("path").attr("d",bandOf(m,myT)(pairs(miniHours,miniTempHi,miniTempLo))).attr("fill","#ffe3d6").attr("clip-path",mtClip);
mf.append("g").selectAll("rect").data(miniRainHours).join("rect").attr("x",d=>m(d)).attr("width",7).attr("y",(d,i)=>myR(miniSnowTotal[i])).attr("height",(d,i)=>myR(0)-myR(miniSnowTotal[i])).attr("fill","#1030d0");
mf.append("g").selectAll("rect").data(miniRainHours).join("rect").attr("x",d=>m(d)).attr("width",7).attr("y",(d,i)=>myR(miniRainMean[i])).attr("height",(d,i)=>myR(0)-myR(miniRainMean[i])).attr("fill","#00a810");
steps(mf,m,myW,miniHours,miniWind,0,d=>windColor(d));
mf.append("rect").attr("x",MX0).attr("width",MX1-MX0).attr("y",qB[0]).attr("height",qB[1]-qB[0]).attr("fill","#87cfff");
mf.append("rect").attr("x",MX0).attr("width",MX1-MX0).attr("y",qC[0]).attr("height",qC[1]-qC[0]).attr("fill","#87cfff");
mf.append("path").attr("d",areaOf(m,myC,0)(pts(miniHighHours,miniHigh))).attr("fill","#fff");
mf.append("path").attr("d",areaOf(m,myC,0)(pts(miniMidHours,miniMid))).attr("fill","#999");
mf.append("path").attr("d",areaOf(m,myC,0)(pts(miniLowHours,miniLow))).attr("fill","#555");
mf.append("path").attr("d",areaOf(m,myC,0)(pts(miniVeryLowHours,miniVeryLow))).attr("fill","#333");
mf.append("path").attr("d",lineOf(m,myC)(pts(miniHighHours,miniHigh).slice(6))).attr("fill","none").attr("stroke","#fff").attr("stroke-width",1);

svg.append("rect").attr("x",m(4.92)).attr("width",61.7).attr("y",30).attr("height",598).attr("fill","#eaf2fc").style("mix-blend-mode","multiply");
steps(svg.append("g"),m,myP,miniPressHours,miniPressure,myP.invert(qP[1]),(a,b)=>pressColor(Math.min(a,b)));

const mo=svg.append("g");
const mv=[1,4,7,10,13];
grid(mo,m,myT,MX0,MX1,qT[0],qT[1],mv,[30,20,10,0,-10]);
grid(mo,m,myR,MX0,MX1,qR[0],qR[1],mv,[.5,1,1.5,2]);
grid(mo,m,myP,MX0,MX1,qP[0],qP[1],mv,[1012,1014,1016,1018]);
grid(mo,m,myW,MX0,MX1,qW[0],qW[1],mv,[5,10,15]);
grid(mo,m,myW,MX0,MX1,qD[0],qD[1],mv,[]);
grid(mo,m,myB,MX0,MX1,qB[0],qB[1],mv,[.5,2,7]);
grid(mo,m,myC,MX0,MX1,qC[0],qC[1],mv,[2,4,6]);

const mt=mo.append("g").attr("clip-path",mtClip);
mt.append("g").selectAll("line").data(miniHours.filter((h,i)=>miniSoilMax[i]!=null)).join("line").attr("x1",d=>m(d)).attr("x2",d=>m(d))
 .attr("y1",d=>myT(miniSoilMax[miniHours.indexOf(d)])).attr("y2",d=>myT(miniSoilMin[miniHours.indexOf(d)])).attr("stroke","#a01818");
mt.append("path").attr("d",lineOf(m,myT)(pts(miniHours,miniFeels))).attr("fill","none").attr("stroke","#0020e0").attr("stroke-width",2.4);
mt.append("path").attr("d",lineOf(m,myT)(pts(miniHours,miniTemp))).attr("fill","none").attr("stroke","#ff0000").attr("stroke-width",2.6);
dots(mt,m,myT,miniHours,miniDew,1.8,"#6a5acd");
mo.append("g").selectAll("line").data(miniRainMaxHours).join("line").attr("x1",d=>m(d)).attr("x2",d=>m(d)).attr("y1",(d,i)=>i?146:myR(miniRainMax[i])).attr("y2",myR(0)).attr("stroke","#00a810");
mo.append("g").selectAll("rect").data(miniOverHours).join("rect").attr("x",d=>m(d)-1.5).attr("y",145.5).attr("width",3).attr("height",3).attr("fill","#f00000");
mo.append("g").selectAll("circle").data(miniStormHours).join("circle").attr("cx",d=>m(d)).attr("cy",173).attr("r",2.3).attr("fill",(d,i)=>miniStormColors[i]).attr("stroke","#000").attr("stroke-width",.6);
mo.append("g").selectAll("rect").data(miniConvective).join("rect").attr("x",d=>m(d)-1.5).attr("y",218.5).attr("width",3).attr("height",1.5).attr("fill","#f00000");
mo.append("path").attr("d",lineOf(m,myH)(pts(miniHours,miniHumidity))).attr("fill","none").attr("stroke","#e8551c").attr("stroke-width",2);
mo.append("path").attr("d",lineOf(m,myP)(pts(miniPressHours,miniPressure))).attr("fill","none").attr("stroke","#000").attr("stroke-width",2.4);
mo.append("path").attr("d",lineOf(m,myW)(pts(miniHours,miniWind))).attr("fill","none").attr("stroke","#0a0a9a").attr("stroke-width",2.4);
mo.append("g").selectAll("line").data(miniGust).join("line").attr("x1",(d,i)=>m(i)).attr("x2",(d,i)=>m(i+1)).attr("y1",d=>myW(d)).attr("y2",d=>myW(d)).attr("stroke","#f00000").attr("shape-rendering","crispEdges");
mo.append("rect").attr("x",m(.7)-1).attr("y",315.5).attr("width",2.5).attr("height",2.5).attr("fill","#f00000");
arrows(mo,m,413.5,miniHours,miniDir,15,6,3);
const mb=mo.append("g").attr("clip-path",clipRect(MX0,MX1,qB[0],qB[1]));
dots(mb,m,myB,miniHours,miniTop,3,"#a52a2a");
dots(mb,m,myB,miniHours,miniWhite,3,"#fff");
dots(mb,m,myB,miniHours,miniLight,3,"#ccc");
dots(mb,m,myB,miniHours,miniGray,3,"#999");
dots(mb,m,myB,miniHours,miniDark,3,"#555");
dots(mb,m,myB,miniHours,miniBlack,3,"#000");
mb.append("path").attr("d",lineOf(m,myV)(pts(miniHours,miniVis))).attr("fill","none").attr("stroke","#ff9800").attr("stroke-width",2);
mo.append("g").selectAll("rect").data(miniFogHours).join("rect").attr("x",d=>m(d)-1.5).attr("width",3).attr("y",(d,i)=>myF(miniFog[i])).attr("height",(d,i)=>myF(0)-myF(miniFog[i])).attr("fill","#ffb000");
[qT,qR,qP,qW,qD,qB,qC].forEach(p=>border(mo,MX0,MX1,p[0],p[1]));

const ma=svg.append("g");
makeAxis(ma,"left",myT,[30,20,10,0,-10],129);
makeAxis(ma,"right",myT,[30,20,10,0,-10],267,{anchor:"end"});
makeAxis(ma,"left",myR,[0,.5,1,1.5,2],129,{format:d3.format(".1f")});
makeAxis(ma,"right",myH,[50,61,73,84,96],266,{anchor:"end",fill:"#e8551c"});
makeAxis(ma,"left",myP,[1012,1014,1016,1018],129);
makeAxis(ma,"right",myP,[1012,1014,1016,1018],252);
makeAxis(ma,"left",myW,[0,5,10,15,20],129);
makeAxis(ma,"right",myWk,[0,18,36,54,72],256,{anchor:"middle"});
makeAxis(ma,"left",myB,[0,.5,2,7,15],129,{format:d3.format(".1f")});
makeAxis(ma,"right",myV,[0,1,5,20,100],252,{fill:"#ff8c00"});
makeAxis(ma,"left",myC,[0,2,4,6,8],129);
makeAxis(ma,"right",myF,[0,.25,.5,.75,1],251,{fill:"#ff8c00"});
timeAxis(ma,m,[4,10,15.6],["20","02","08"],52,12);
timeAxis(ma,m,[4,10,15.6],["18","00","06"],613,12);

const lg=svg.append("g");
lg.append("g").selectAll("path").data(leaders).join("path").attr("d",d=>d3.line()(d.slice(0,-1))).attr("fill","none").attr("stroke",d=>d[d.length-1]).attr("stroke-width",1);
legendLabels.forEach(d=>txt(lg,d[0],d[1],d[2],{fill:d[3]}));
legendBoxes.forEach(d=>{lg.append("rect").attr("x",d[1]).attr("y",d[2]).attr("width",d[3]).attr("height",d[4]).attr("fill","#7ec8f8");txt(lg,d[0],d[1]+1,d[5],{fill:"#fff"});});
txt(lg,"Czas uniwersalny (UTC)",6,627,{ls:.3,size:11.5});
txt(lg,"* powyżej poziomu morza",5,652,{size:9.5,weight:700});
</script></body></html>
